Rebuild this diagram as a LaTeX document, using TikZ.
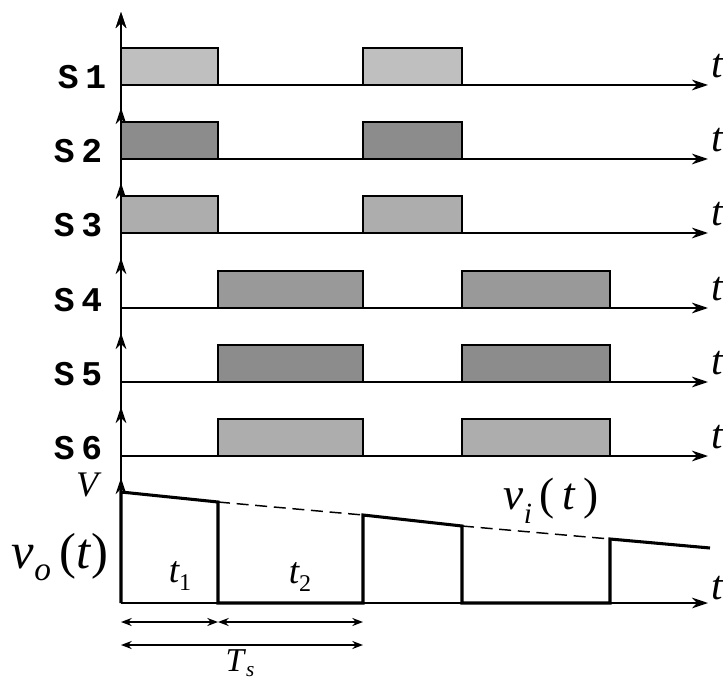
\documentclass[tikz,border=0pt]{standalone}
\usepackage{fontspec}
\setmainfont{Liberation Serif}
\newfontfamily\labfont{Liberation Mono}
\usetikzlibrary{arrows.meta}
\begin{document}
\begin{tikzpicture}[x=0.75pt,y=-0.75pt,
  axisline/.style={line width=1.7pt,-{Stealth[length=12pt,width=8pt]}},
  pulse/.style={draw=black,line width=1.8pt},
  wave/.style={line width=2.3pt},
  chlab/.style={font=\labfont\bfseries\fontsize{26}{26}\selectfont,inner sep=0pt},
  tlab/.style={font=\itshape\fontsize{31}{31}\selectfont,inner sep=0pt},
  dimarrow/.style={line width=1.3pt,{Stealth[length=8pt,width=6pt]}-{Stealth[length=8pt,width=6pt]}},
  dimline/.style={line width=0.6pt,dotted}]
\path[use as bounding box,clip] (0,0) rectangle (723,680);
\fill[white] (0,0) rectangle (723,680);
% main vertical axis
\draw[axisline] (121,603) -- (121,12);
% channels: baseline, tip, label, shade, label x, pulse group
\foreach \b/\tip/\lab/\shade/\lx/\grp in {
   85/12/1/25/82/A,
   159/108/2/45/78/A,
   233/183/3/32/78/A,
   308/258/4/40/78/B,
   382/333/5/45/78/B,
   456/407/6/32/78/B}{
  \draw[axisline] (121,\b) -- (121,\tip);
  \if\grp A
    \filldraw[pulse,fill=black!\shade] (121,\b) rectangle (218,\b-37);
    \filldraw[pulse,fill=black!\shade] (363,\b) rectangle (462,\b-37);
  \else
    \filldraw[pulse,fill=black!\shade] (218,\b) rectangle (363,\b-37);
    \filldraw[pulse,fill=black!\shade] (462,\b) rectangle (610,\b-37);
  \fi
  \draw[axisline] (121,\b) -- (708,\b);
  \node[tlab] at (717,\b-19) {t};
  \node[chlab] at (\lx,\b-8) {S\hspace{5pt}\lab};
}
% output waveform
\draw[axisline] (121,603) -- (121,478);
\draw[axisline] (121,603) -- (708,603);
\node[tlab] at (717,588) {t};
\coordinate (p0) at (121,492);
\coordinate (p1) at (218,502);
\coordinate (p2) at (363,515);
\coordinate (p3) at (462,526);
\coordinate (p4) at (610,539);
\coordinate (p5) at (710,548);
\draw[wave,line join=miter] (121,603) -- (p0) -- (p1) -- (218,603) -- (363,603) -- (p2) -- (p3) -- (462,603) -- (610,603) -- (p4) -- (p5);
\draw[line width=1.1pt,dash pattern=on 9pt off 5pt] (p1) -- (p2);
\draw[line width=1.1pt,dash pattern=on 9pt off 5pt] (p3) -- (p4);
\node[font=\itshape\fontsize{27}{27}\selectfont,inner sep=0pt] (Vl) at (87,485) {V};
\node[font=\fontsize{38}{38}\selectfont,inner sep=0pt] (vo) at (60,557) {\textit{v}\raisebox{-0.25em}{\fontsize{25}{25}\selectfont\textit{o}}\,(\textit{t})};
\node[font=\fontsize{34}{34}\selectfont,inner sep=0pt] (vi) at (551,501) {\textit{v}\raisebox{-0.3em}{\fontsize{22}{22}\selectfont\textit{i}}\,(\,\textit{t}\,)};
\node[font=\itshape\fontsize{28}{28}\selectfont,inner sep=0pt] (t1) at (180,576) {t\raisebox{-0.2em}{\fontsize{18}{18}\selectfont\upshape 1}};
\node[font=\itshape\fontsize{28}{28}\selectfont,inner sep=0pt] (t2) at (300,577) {t\raisebox{-0.2em}{\fontsize{18}{18}\selectfont\upshape 2}};
% dimension lines
\coordinate (d0) at (121,603);
\coordinate (d1) at (218,603);
\coordinate (d2) at (363,603);
\foreach \d in {d0,d1,d2} \draw[dimline] (\d) -- ++(0,-47);
\coordinate (a0) at (121,622);
\coordinate (a1) at (218,622);
\coordinate (a2) at (363,622);
\coordinate (b0) at (121,645);
\coordinate (b2) at (363,645);
\draw[dimarrow] (a0) -- (a1);
\draw[dimarrow] (a1) -- (a2);
\draw[dimarrow] (b0) -- (b2);
\node[font=\fontsize{25}{25}\selectfont,inner sep=0pt,anchor=base] (Ts) at (240,671) {\textit{T}\raisebox{-0.15em}{\fontsize{16}{16}\selectfont\textit{s}}};
\end{tikzpicture}
\end{document}
